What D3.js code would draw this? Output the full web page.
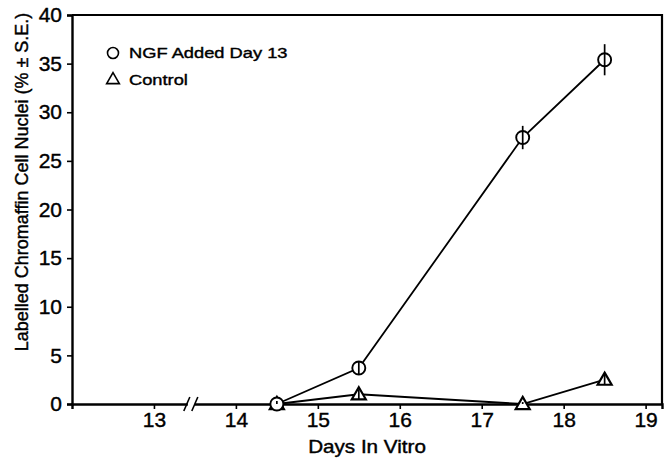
<!DOCTYPE html>
<html>
<head>
<meta charset="utf-8">
<script src="https://cdn.jsdelivr.net/npm/d3@7"></script>
<style>
  body { margin: 0; background: #fff; }
  text { font-family: "Liberation Sans", Arial, sans-serif; fill: #000; stroke: #000; stroke-width: 0.4px; }
</style>
</head>
<body>
<div id="chart"></div>
<script>
// values
const days = [14.5, 15.5, 17.5, 18.5];
const ngf = [0, 3.7, 27.4, 35.4];
const ngfErr = [0.3, 0.7, 1.2, 1.6];
const control = [0, 1.0, 0, 2.5];
const controlErr = [0.2, 0.5, 0.2, 0.5];
const xTicks = [13, 14, 15, 16, 17, 18, 19];
const yTicks = [0, 5, 10, 15, 20, 25, 30, 35, 40];

const width = 670, height = 458;
const mLeft = 72, mRight = 662, mTop = 15, mBottom = 404;

const svg = d3.select("#chart").append("svg")
    .attr("width", width)
    .attr("height", height);

const x = d3.scaleLinear().domain([12, 19.2]).range([mLeft, mRight]);
const y = d3.scaleLinear().domain([0, 40]).range([mBottom, mTop]);

// box (top + right edges)
svg.append("path")
    .attr("d", `M${mLeft},${mTop}H${mRight}V${mBottom}`)
    .attr("fill", "none")
    .attr("stroke", "#000")
    .attr("stroke-width", 2.2);

const yAxis = svg.append("g")
    .attr("transform", `translate(${mLeft},0)`)
    .call(d3.axisLeft(y).tickValues(yTicks).tickSize(5).tickPadding(5));

const xAxis = svg.append("g")
    .attr("transform", `translate(0,${mBottom})`)
    .call(d3.axisBottom(x).tickValues(xTicks).tickSize(5).tickPadding(3));

[yAxis, xAxis].forEach(g => {
  g.select(".domain").attr("stroke-width", 2.4);
  g.selectAll(".tick line").attr("stroke-width", 1.6);
  g.selectAll(".tick text")
      .style("font-family", "'Liberation Sans', Arial, sans-serif")
      .style("font-size", "21px")
      .attr("fill", "#000");
});

// axis break between 13 and 14
const bx = x(13.45);
svg.append("rect")
    .attr("x", bx - 3).attr("y", mBottom - 3)
    .attr("width", 7).attr("height", 6)
    .attr("fill", "#fff");
[bx - 4, bx + 4].forEach(cx => {
  svg.append("line")
      .attr("x1", cx - 3).attr("y1", mBottom + 7)
      .attr("x2", cx + 3).attr("y2", mBottom - 7)
      .attr("stroke", "#000")
      .attr("stroke-width", 1.6);
});

// axis titles (scan is a little wider than tall, so stretch horizontally)
svg.append("g")
    .attr("transform", `translate(${x(15.6)},453) scale(1.18,1)`)
  .append("text")
    .attr("text-anchor", "middle")
    .style("font-size", "17.5px")
    .text("Days In Vitro");

svg.append("text")
    .attr("transform", "translate(28,182) rotate(-90)")
    .attr("text-anchor", "middle")
    .style("font-size", "18px")
    .text("Labelled Chromaffin Cell Nuclei (% \u00b1 S.E.)");

const line = d3.line().x(d => x(d[0])).y(d => y(d[1]));

function drawSeries(vals, errs, shape) {
  const pts = days.map((d, i) => [d, vals[i], errs[i]]);
  svg.append("path")
      .datum(pts)
      .attr("d", line)
      .attr("fill", "none")
      .attr("stroke", "#000")
      .attr("stroke-width", 1.8);

  const g = svg.append("g").selectAll("g")
      .data(pts)
      .join("g")
      .attr("transform", d => `translate(${x(d[0])},${y(d[1])})`);

  if (shape === "circle") {
    g.append("circle")
        .attr("r", 6.5)
        .attr("fill", "#fff")
        .attr("stroke", "#000")
        .attr("stroke-width", 1.9);
  } else {
    g.append("path")
        .attr("d", d3.symbol(d3.symbolTriangle, 85))
        .attr("transform", "translate(0,1)")
        .attr("fill", "#fff")
        .attr("stroke", "#000")
        .attr("stroke-width", 2.2);
  }

  g.append("line")
      .attr("y1", d => y(d[1] + d[2]) - y(d[1]))
      .attr("y2", d => y(Math.max(0, d[1] - d[2])) - y(d[1]))
      .attr("stroke", "#000")
      .attr("stroke-width", 1.7);
}

drawSeries(control, controlErr, "triangle");
drawSeries(ngf, ngfErr, "circle");

// legend
const legend = svg.append("g");
legend.append("circle")
    .attr("cx", 113).attr("cy", 53).attr("r", 5.5)
    .attr("fill", "#fff").attr("stroke", "#000").attr("stroke-width", 1.6);
legend.append("g")
    .attr("transform", "translate(129,58) scale(1.18,1)")
  .append("text")
    .style("font-size", "15.5px")
    .text("NGF Added Day 13");
legend.append("path")
    .attr("d", d3.symbol(d3.symbolTriangle, 70))
    .attr("transform", "translate(113,80)")
    .attr("fill", "#fff").attr("stroke", "#000").attr("stroke-width", 1.6);
legend.append("g")
    .attr("transform", "translate(129,85) scale(1.18,1)")
  .append("text")
    .style("font-size", "15.5px")
    .text("Control");
</script>
</body>
</html>
